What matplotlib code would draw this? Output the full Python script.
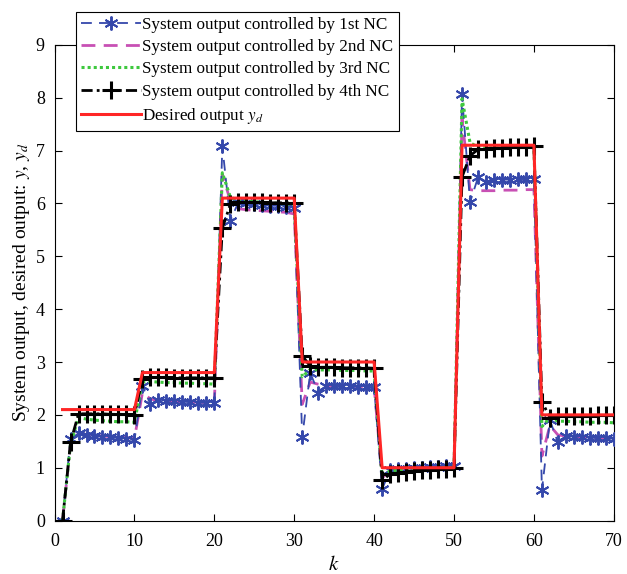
import matplotlib
matplotlib.use("Agg")
import matplotlib.pyplot as plt
import numpy as np

plt.rcParams['font.family'] = ['Liberation Serif', 'DejaVu Serif']
plt.rcParams['mathtext.fontset'] = 'stix'

# sample index
k = np.arange(1, 71)

# desired output y_d (piecewise constant reference)
y_desired = [2.1, 2.1, 2.1, 2.1, 2.1, 2.1, 2.1, 2.1, 2.1, 2.1,
             2.8, 2.8, 2.8, 2.8, 2.8, 2.8, 2.8, 2.8, 2.8, 2.8,
             6.1, 6.1, 6.1, 6.1, 6.1, 6.1, 6.1, 6.1, 6.1, 6.1,
             3.0, 3.0, 3.0, 3.0, 3.0, 3.0, 3.0, 3.0, 3.0, 3.0,
             1.0, 1.0, 1.0, 1.0, 1.0, 1.0, 1.0, 1.0, 1.0, 1.0,
             7.1, 7.1, 7.1, 7.1, 7.1, 7.1, 7.1, 7.1, 7.1, 7.1,
             2.0, 2.0, 2.0, 2.0, 2.0, 2.0, 2.0, 2.0, 2.0, 2.0]

# system outputs under the four controllers
y_nc1 = [0.00, 1.55, 1.65, 1.62, 1.60, 1.59, 1.58, 1.56, 1.55, 1.52,
         2.55, 2.20, 2.29, 2.27, 2.26, 2.25, 2.24, 2.23, 2.23, 2.22,
         7.08, 5.67, 6.02, 6.00, 5.98, 5.97, 5.96, 5.95, 5.94, 5.92,
         1.58, 2.80, 2.42, 2.55, 2.55, 2.54, 2.54, 2.53, 2.53, 2.52,
         0.60, 0.95, 0.97, 0.98, 0.99, 1.00, 1.01, 1.02, 1.03, 1.04,
         8.06, 6.02, 6.49, 6.40, 6.44, 6.45, 6.45, 6.46, 6.46, 6.47,
         0.58, 1.90, 1.48, 1.60, 1.59, 1.58, 1.57, 1.56, 1.56, 1.55]

y_nc2 = [0.00, 1.45, 1.65, 1.63, 1.61, 1.60, 1.59, 1.58, 1.57, 1.55,
         2.42, 2.30, 2.27, 2.26, 2.25, 2.25, 2.24, 2.24, 2.23, 2.23,
         6.55, 6.05, 5.90, 5.88, 5.87, 5.86, 5.85, 5.84, 5.83, 5.80,
         2.20, 2.62, 2.58, 2.56, 2.55, 2.55, 2.54, 2.54, 2.53, 2.53,
         0.80, 0.97, 0.98, 0.99, 1.00, 1.01, 1.02, 1.03, 1.04, 1.05,
         7.60, 6.26, 6.24, 6.24, 6.24, 6.25, 6.25, 6.25, 6.26, 6.26,
         1.22, 1.80, 1.62, 1.60, 1.59, 1.58, 1.57, 1.56, 1.56, 1.55]

y_nc3 = [0.00, 1.45, 1.95, 1.92, 1.90, 1.89, 1.88, 1.87, 1.87, 1.86,
         2.62, 2.63, 2.62, 2.61, 2.61, 2.60, 2.60, 2.59, 2.59, 2.58,
         6.58, 6.12, 6.05, 6.04, 6.03, 6.02, 6.01, 6.00, 5.99, 5.98,
         2.72, 2.86, 2.85, 2.85, 2.85, 2.84, 2.84, 2.84, 2.83, 2.83,
         0.85, 0.94, 0.95, 0.96, 0.97, 0.98, 0.98, 0.99, 1.00, 1.00,
         7.98, 7.15, 7.06, 7.05, 7.05, 7.05, 7.06, 7.06, 7.06, 7.07,
         1.78, 1.95, 1.88, 1.88, 1.87, 1.87, 1.86, 1.86, 1.86, 1.85]

y_nc4 = [0.00, 1.48, 2.02, 2.02, 2.02, 2.02, 2.01, 2.01, 2.01, 2.00,
         2.68, 2.71, 2.71, 2.71, 2.70, 2.70, 2.70, 2.70, 2.70, 2.70,
         5.53, 5.98, 6.02, 6.02, 6.02, 6.02, 6.01, 6.01, 6.01, 6.00,
         3.12, 2.92, 2.90, 2.90, 2.90, 2.89, 2.89, 2.89, 2.89, 2.88,
         0.76, 0.88, 0.90, 0.92, 0.93, 0.95, 0.96, 0.97, 0.98, 1.00,
         6.50, 6.90, 7.02, 7.03, 7.04, 7.05, 7.06, 7.06, 7.07, 7.08,
         2.25, 1.95, 1.97, 1.97, 1.98, 1.98, 1.98, 1.99, 1.99, 1.99]

fig = plt.figure(figsize=(6.27, 5.74), dpi=100)
ax = fig.add_axes([0.087, 0.093, 0.892, 0.829])

# six-armed asterisk marker for the 1st NC curve
asterisk = (6, 2, 0)

ax.plot(k, y_nc1, color='#3548ab', linestyle=(0, (6, 4)), linewidth=1.3,
        marker=asterisk, markersize=10, markeredgewidth=1.4,
        label='System output controlled by 1st NC', zorder=3)
ax.plot(k, y_nc2, color='#c850b4', linestyle=(0, (5, 3)), linewidth=2.0,
        label='System output controlled by 2nd NC', zorder=2)
ax.plot(k, y_nc3, color='#3ec83e', linestyle=(0, (1, 1)), linewidth=2.2,
        label='System output controlled by 3rd NC', zorder=4)
ax.plot(k, y_nc4, color='black', linestyle=(0, (4, 1.5, 1, 1.5)), linewidth=2.0,
        marker='+', markersize=13, markeredgewidth=2.2,
        label='System output controlled by 4th NC', zorder=5)
ax.plot(k, y_desired, color='#ff2626', linewidth=2.2,
        label='Desired output $y_d$', zorder=6)

ax.set_xlim(0, 70)
ax.set_ylim(0, 9)
ax.set_xticks(np.arange(0, 71, 10))
ax.set_yticks(np.arange(0, 10, 1))
ax.tick_params(direction='in', top=True, right=True, labelsize=13, length=5)
ax.tick_params(axis='x', pad=9)
ax.tick_params(axis='y', pad=7)
for s in ax.spines.values():
    s.set_linewidth(0.8)

ax.set_xlabel('$k$', fontsize=15, labelpad=4)
ax.set_ylabel('System output, desired output: $y$, $y_d$', fontsize=14, labelpad=3)

leg = ax.legend(loc='upper left', bbox_to_anchor=(0.121, 0.979),
                bbox_transform=fig.transFigure, fontsize=12.3, fancybox=False,
                edgecolor='black', framealpha=1, borderaxespad=0,
                handlelength=3.5, handletextpad=0.1, labelspacing=0.36,
                borderpad=0.3)
leg.get_frame().set_linewidth(0.8)

plt.savefig('out.png', dpi=100)
